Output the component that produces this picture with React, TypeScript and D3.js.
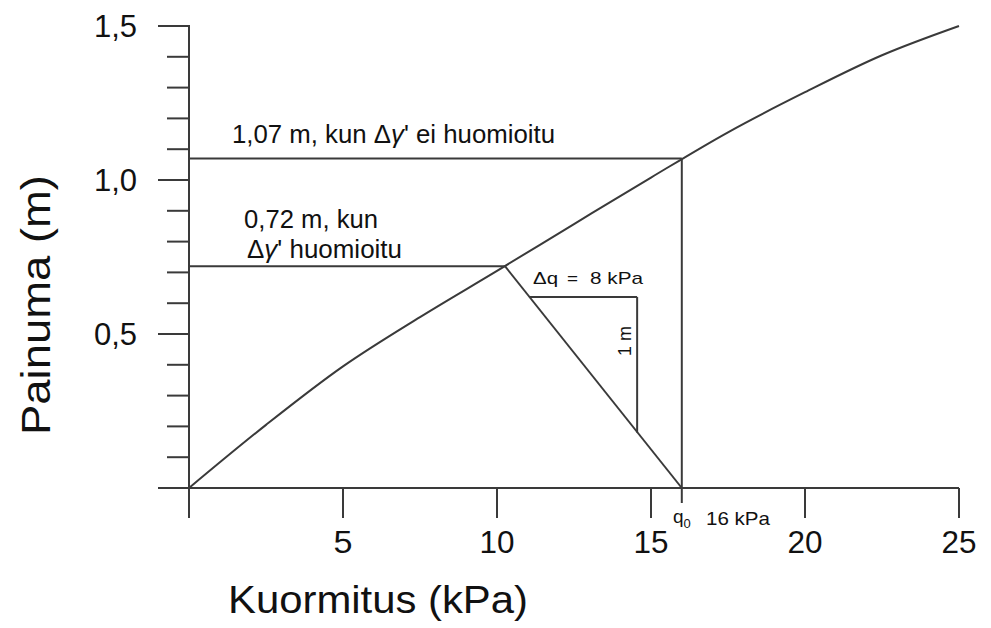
import React from "react";
import * as d3 from "d3";

// Settlement curve (load kPa -> settlement m)
const loadValues = [0, 2.5, 5, 7.5, 10, 12.5, 15, 17.5, 20, 22.5, 25];
const settlementValues = [0, 0.205, 0.395, 0.555, 0.705, 0.857, 1.008, 1.155, 1.285, 1.405, 1.5];

const xTicks = [5, 10, 15, 20, 25];
const xTickLabels = ["5", "10", "15", "20", "25"];
const yMajorTicks = [0, 0.5, 1.0, 1.5];
const yMajorLabels = ["", "0,5", "1,0", "1,5"];
const yMinorTicks = [0.1, 0.2, 0.3, 0.4, 0.6, 0.7, 0.8, 0.9, 1.1, 1.2, 1.3, 1.4];

// key points
const q0 = 16;
const sNoGamma = 1.07;
const sGamma = 0.72;
const qGamma = 10.26;
// slope triangle corners
const triQ = [11.07, 14.55];
const triS = [0.62, 0.18];

export default function App() {
  const W = 991, H = 628;
  const x = d3.scaleLinear().domain([0, 25]).range([189, 959]);
  const y = d3.scaleLinear().domain([0, 1.5]).range([488, 26]);
  const line = d3
    .line<number>()
    .x((_, i) => x(loadValues[i]))
    .y((d) => y(d))
    .curve(d3.curveCatmullRom.alpha(0.5));
  const stroke = "#3a3a3a";
  const sw = 2;
  const font = "'Liberation Sans', Arial, sans-serif";
  const x0 = x(0), y0 = y(0);
  return (
    <svg width={W} height={H} style={{ position: "absolute", left: 0, top: 0, background: "#fff" }} fontFamily={font}>
      {/* axes */}
      <line x1={x0} x2={x0} y1={y(1.5) - 1} y2={y0 + 30} stroke={stroke} strokeWidth={sw} />
      <line x1={x0 - 31} x2={x(25)} y1={y0} y2={y0} stroke={stroke} strokeWidth={sw} />
      {yMajorTicks.map((t) => (
        <line key={"ym" + t} x1={x0 - 31} x2={x0} y1={y(t)} y2={y(t)} stroke={stroke} strokeWidth={sw} />
      ))}
      {yMinorTicks.map((t) => (
        <line key={"yn" + t} x1={x0 - 22} x2={x0} y1={y(t)} y2={y(t)} stroke={stroke} strokeWidth={sw} />
      ))}
      {yMajorTicks.map((t, i) => (
        <text key={"yl" + t} x={137} y={y(t) + 11} fontSize={31} textAnchor="end" fill="#111">
          {yMajorLabels[i]}
        </text>
      ))}
      {xTicks.map((t, i) => (
        <g key={"xt" + t}>
          <line x1={x(t)} x2={x(t)} y1={y0} y2={y0 + 30} stroke={stroke} strokeWidth={sw} />
          <text
            x={x(t)}
            y={553}
            fontSize={31}
            textAnchor="middle"
            fill="#111"
            textLength={xTickLabels[i].length > 1 ? 35 : 19}
            lengthAdjust="spacingAndGlyphs"
          >
            {xTickLabels[i]}
          </text>
        </g>
      ))}
      <line x1={x(q0)} x2={x(q0)} y1={y0} y2={y0 + 15} stroke={stroke} strokeWidth={sw} />

      {/* curve */}
      <path d={line(settlementValues) || ""} fill="none" stroke={stroke} strokeWidth={sw} />

      {/* guide lines */}
      <line x1={x0} x2={x(q0)} y1={y(sNoGamma)} y2={y(sNoGamma)} stroke={stroke} strokeWidth={sw} />
      <line x1={x(q0)} x2={x(q0)} y1={y(sNoGamma)} y2={y0} stroke={stroke} strokeWidth={sw} />
      <line x1={x0} x2={x(qGamma)} y1={y(sGamma)} y2={y(sGamma)} stroke={stroke} strokeWidth={sw} />
      <line x1={x(qGamma)} x2={x(q0)} y1={y(sGamma)} y2={y0} stroke={stroke} strokeWidth={sw} />
      <line x1={x(triQ[0])} x2={x(triQ[1])} y1={y(triS[0])} y2={y(triS[0])} stroke={stroke} strokeWidth={sw} />
      <line x1={x(triQ[1])} x2={x(triQ[1])} y1={y(triS[0])} y2={y(triS[1])} stroke={stroke} strokeWidth={sw} />

      {/* annotations */}
      <text x={232} y={143} fontSize={25} fill="#111" textLength={323} lengthAdjust="spacingAndGlyphs">
        1,07 m, kun Δ<tspan fontStyle="italic">γ</tspan>' ei huomioitu
      </text>
      <text x={244} y={228} fontSize={25} fill="#111" textLength={134} lengthAdjust="spacingAndGlyphs">
        0,72 m, kun
      </text>
      <text x={247} y={258} fontSize={25} fill="#111" textLength={155} lengthAdjust="spacingAndGlyphs">
        Δ<tspan fontStyle="italic">γ</tspan>' huomioitu
      </text>
      <text x={533} y={284} fontSize={17} fill="#111" textLength={25} lengthAdjust="spacingAndGlyphs">
        Δq
      </text>
      <text x={567} y={284} fontSize={17} fill="#111" textLength={11} lengthAdjust="spacingAndGlyphs">
        =
      </text>
      <text x={590} y={284} fontSize={17} fill="#111" textLength={53} lengthAdjust="spacingAndGlyphs">
        8 kPa
      </text>
      <text transform={`translate(631,341) rotate(-90)`} fontSize={18} fill="#111" textAnchor="middle">
        1 m
      </text>
      <text x={673} y={523} fontSize={19} fill="#111">
        q<tspan fontSize={13} dy={5}>0</tspan>
      </text>
      <text x={706} y={525} fontSize={19} fill="#111" textLength={64} lengthAdjust="spacingAndGlyphs">
        16 kPa
      </text>

      {/* axis titles */}
      <text x={228} y={613} fontSize={38} fill="#111" textLength={300} lengthAdjust="spacingAndGlyphs">
        Kuormitus (kPa)
      </text>
      <text transform={`translate(50,305) rotate(-90)`} fontSize={41} fill="#111" textAnchor="middle" textLength={260} lengthAdjust="spacingAndGlyphs">
        Painuma (m)
      </text>
    </svg>
  );
}
